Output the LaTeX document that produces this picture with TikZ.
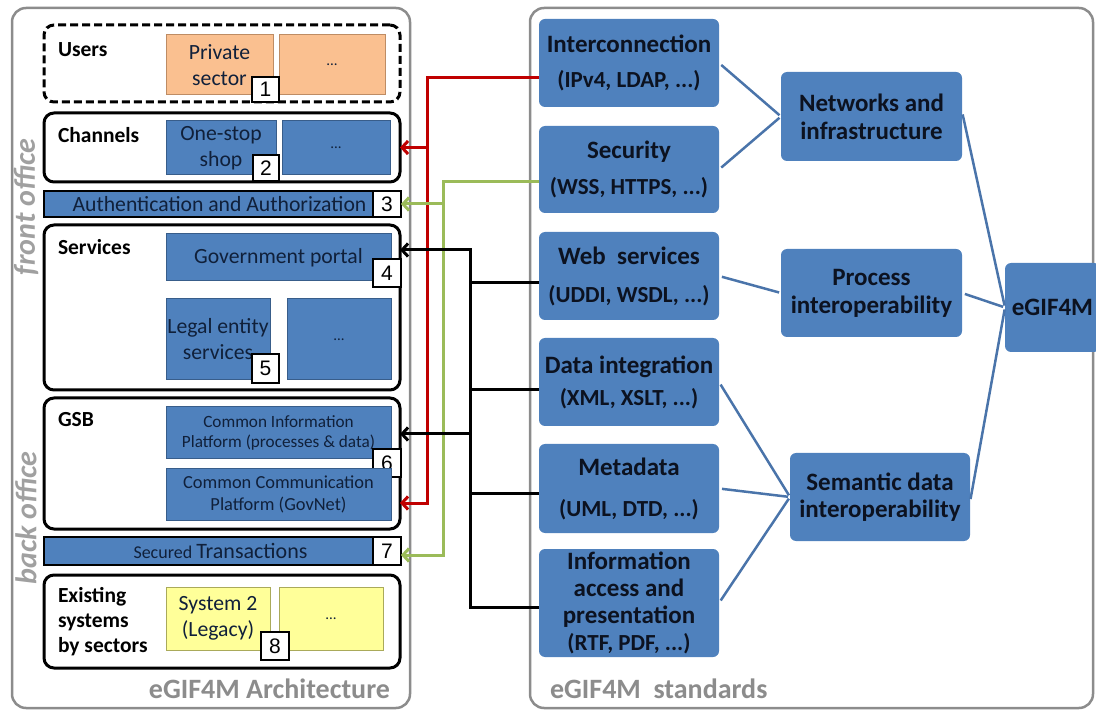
\documentclass[tikz,border=0pt]{standalone}
\usepackage{fontspec}
\setmainfont{Carlito}
\newfontfamily\numfont{Liberation Sans}
\usetikzlibrary{arrows.meta,calc}

\definecolor{boxblue}{RGB}{79,129,189}
\definecolor{boxedge}{RGB}{56,93,138}
\definecolor{peach}{RGB}{250,192,144}
\definecolor{peachedge}{RGB}{190,140,100}
\definecolor{lemon}{RGB}{255,255,153}
\definecolor{lemonedge}{RGB}{170,170,90}
\definecolor{panelgray}{RGB}{140,140,140}
\definecolor{sidegray}{RGB}{160,160,160}
\definecolor{navytext}{RGB}{16,32,58}
\definecolor{darktext}{RGB}{12,18,32}
\definecolor{linkblue}{RGB}{74,116,170}
\definecolor{redline}{RGB}{192,0,0}
\definecolor{greenline}{RGB}{155,187,89}

\begin{document}
\begin{tikzpicture}[x=1pt,y=-1pt,
  every node/.style={inner sep=0pt,outer sep=0pt},
  sz/.style 2 args={minimum width=#1pt,minimum height=#2pt},
  fs/.style 2 args={font=\fontsize{#1}{#2}\selectfont},
  panel/.style={draw=panelgray,line width=2.5pt,rounded corners=14pt},
  layer/.style={draw=black,line width=3pt,rounded corners=10pt,fill=white},
  userlayer/.style={layer,dash pattern=on 8pt off 4pt},
  lbl/.style={anchor=west,align=left,text=black,font=\bfseries\fontsize{21.5}{25}\selectfont},
  ibox/.style={fill=boxblue,draw=boxedge,line width=1pt,text=navytext,align=center,font=\fontsize{21.7}{26}\selectfont},
  pbox/.style={ibox,fill=peach,draw=peachedge},
  ybox/.style={ibox,fill=lemon,draw=lemonedge},
  bar/.style={fill=boxblue,draw=black,line width=2.5pt,text=navytext},
  badge/.style={fill=white,draw=black,line width=2pt,font=\numfont\fontsize{21}{21}\selectfont},
  sbox/.style={fill=boxblue,rounded corners=6pt,align=center,text=darktext},
  stext/.style={font=\bfseries\fontsize{23}{#1}\selectfont},
  big/.style={font=\bfseries\fontsize{25}{#1}\selectfont},
  title/.style={text=panelgray,font=\bfseries\fontsize{28}{32}\selectfont},
  side/.style={text=sidegray,rotate=90,font=\bfseries\itshape\fontsize{30}{34}\selectfont},
  link/.style={draw=linkblue,line width=2.5pt,shorten <=3pt,shorten >=2pt},
  tip/.style={-{Straight Barb[length=6pt,width=13pt]}},
  redlink/.style={draw=redline,line width=3pt},
  greenlink/.style={draw=greenline,line width=3pt},
  blacklink/.style={draw=black,line width=3pt}
]
\useasboundingbox (0,0) rectangle (1096,711);

% ---------- architecture panel ----------
\node[panel,sz={398}{700}] (arch) at (211,358) {};
\node[title,anchor=base east] (archtitle) at (390,698) {eGIF4M Architecture};
\node[side] (front) at (26,207) {front office};
\node[side] (back) at (26,518) {back office};

% users
\node[userlayer,sz={356}{77}] (users) at (222,63.5) {};
\node[lbl] (userslbl) at (58,50) {Users};
\node[pbox,sz={107}{60}] (private) at (219.5,65) {Private\\sector};
\node[pbox,sz={106}{60},fs={15}{18}] (usersmore) at (332,65) {...};
\node[badge,sz={27}{25}] (b1) at (265.5,89.5) {1};

% channels
\node[layer,sz={356}{69}] (channels) at (222,147.5) {};
\node[lbl] (channelslbl) at (58,135) {Channels};
\node[ibox,sz={110}{54}] (onestop) at (221,148) {One-stop\\shop};
\node[ibox,sz={108}{54},fs={15}{18}] (chanmore) at (336,148) {...};
\node[badge,sz={26}{26}] (b2) at (266,168) {2};

% authentication bar
\node[bar,sz={329}{26},fs={21.7}{24}] (auth) at (208.5,204) {\hspace*{22pt}Authentication and Authorization};
\node[badge,sz={28}{26}] (b3) at (387,204) {3};

% services
\node[layer,sz={356}{165}] (services) at (222,307.5) {};
\node[lbl] (serviceslbl) at (58,247) {Services};
\node[ibox,sz={225}{47}] (portal) at (278.5,257.5) {Government portal};
\node[badge,sz={28}{28}] (b4) at (387,273) {4};
\node[ibox,sz={104}{81}] (legal) at (218,339.5) {Legal entity\\services};
\node[ibox,sz={104}{81},fs={15}{18}] (servmore) at (339,339.5) {...};
\node[badge,sz={27}{29}] (b5) at (265.5,368.5) {5};

% government service bus
\node[layer,sz={356}{131}] (gsb) at (222,463.5) {};
\node[lbl] (gsblbl) at (58,420) {GSB};
\node[ibox,sz={225}{52},fs={17.2}{20}] (cip) at (278.5,433) {Common Information\\Platform (processes \& data)};
\node[badge,sz={28}{28}] (b6) at (387,463) {6};
\node[ibox,sz={225}{52},fs={18.4}{22}] (ccp) at (278.5,494) {Common Communication\\Platform (GovNet)};

% secured transactions bar
\node[bar,sz={329}{28}] (secured) at (208.5,551) {\hspace*{24pt}{\fontsize{18}{20}\selectfont Secured }{\fontsize{22}{24}\selectfont Transactions}};
\node[badge,sz={28}{28}] (b7) at (387,551) {7};

% existing systems
\node[layer,sz={356}{93}] (existing) at (222,621.5) {};
\node[lbl] (existinglbl) at (58,622) {Existing\\systems\\by sectors};
\node[ybox,sz={104}{63}] (system2) at (218,618.5) {System 2\\(Legacy)};
\node[ybox,sz={104}{63},fs={15}{18}] (sysmore) at (331,618.5) {...};
\node[badge,sz={28}{28}] (b8) at (275,646) {8};

% ---------- standards panel ----------
\node[panel,sz={563}{700}] (std) at (811.5,358) {};
\node[title,anchor=base west] (stdtitle) at (550,698) {eGIF4M\ \ standards};

\node[sbox,sz={180}{88},stext={35}] (inter) at (629,63) {{\fontsize{25}{35}\selectfont Interconnection}\\(IPv4, LDAP, ...)};
\node[sbox,sz={180}{87},stext={36}] (security) at (629,169.5) {{\fontsize{25}{36}\selectfont Security}\\(WSS, HTTPS, ...)};
\node[sbox,sz={180}{88},stext={38}] (web) at (629,276) {{\fontsize{25}{38}\selectfont Web\ \ services}\\(UDDI, WSDL, ...)};
\node[sbox,sz={180}{88},stext={32}] (data) at (629,382) {{\fontsize{25}{32}\selectfont Data integration}\\(XML, XSLT, ...)};
\node[sbox,sz={180}{89},stext={41}] (meta) at (629,488.5) {{\fontsize{25}{41}\selectfont Metadata}\\(UML, DTD, ...)};
\node[sbox,sz={180}{108},big={27}] (info) at (629,603) {Information\\access and\\presentation\\{\fontsize{23}{27}\selectfont (RTF, PDF, ...)}};

\node[sbox,sz={181}{89},big={28}] (networks) at (871.5,116.5) {Networks and\\infrastructure};
\node[sbox,sz={181}{88},big={28}] (process) at (871.5,293) {Process\\interoperability};
\node[sbox,sz={180}{88},big={27}] (semantic) at (880,497) {Semantic data\\interoperability};
\node[sbox,sz={95}{89},big={28}] (egif) at (1052.5,307.5) {eGIF4M};

% standards hierarchy
\draw[link] (inter.east) -- (networks.west);
\draw[link] (security.east) -- (networks.west);
\draw[link] (web.east) -- (process.west);
\draw[link] (data.east) -- (semantic.west);
\draw[link] (meta.east) -- (semantic.west);
\draw[link] (info.east) -- (semantic.west);
\draw[link] ([yshift=5pt]networks.east) -- (egif.west);
\draw[link] (process.east) -- (egif.west);
\draw[link] ([yshift=-5pt]semantic.east) -- (egif.west);

% mapping of standards onto the architecture
\coordinate (redbus) at (427,503);
\coordinate (greenbus) at (443,555);
\coordinate (blacktop) at (470,250);
\coordinate (blackgsb) at (470,434);

\draw[redlink,tip] ([yshift=-15pt]inter.west) -| (redbus) -- (redbus -| gsb.east);
\draw[redlink,tip] (channels.east -| redbus) -- (channels.east);

\draw[greenlink,tip] ([yshift=-12pt]security.west) -| (greenbus) -- (greenbus -| b7.east);
\draw[greenlink,tip] (b3.east -| greenbus) -- (b3.east);

\draw[blacklink,tip] ([yshift=-4pt]info.west) -| (blacktop) -- (blacktop -| services.east);
\draw[blacklink] ([yshift=-7pt]web.west) -- ([yshift=-7pt]web.west -| blacktop);
\draw[blacklink] ([yshift=-8pt]data.west) -- ([yshift=-8pt]data.west -| blacktop);
\draw[blacklink] ([yshift=-5pt]meta.west) -- ([yshift=-5pt]meta.west -| blacktop);
\draw[blacklink,tip] (blackgsb) -- (blackgsb -| gsb.east);
\end{tikzpicture}
\end{document}
